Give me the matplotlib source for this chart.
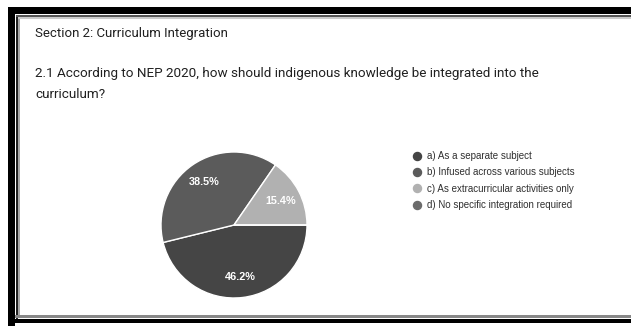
import matplotlib.pyplot as plt
from matplotlib.patches import Rectangle
from matplotlib.lines import Line2D

# survey response shares (percent)
options = ['a) As a separate subject',
           'b) Infused across various subjects',
           'c) As extracurricular activities only',
           'd) No specific integration required']
shares = [46.2, 38.5, 15.4, 0.0]
colors = ['#454545', '#5b5b5b', '#b1b1b1', '#6b6b6b']

title = 'Section 2: Curriculum Integration'
question = '2.1 According to NEP 2020, how should indigenous knowledge be integrated into the\ncurriculum?'

W, H = 631, 326
fig = plt.figure(figsize=(W / 100, H / 100), dpi=100)
fig.patch.set_facecolor('white')


def box(x0, y0, x1, y1, color):
    # rectangle in pixel coords measured from the top-left corner
    fig.patches.append(Rectangle((x0 / W, 1 - y1 / H), (x1 - x0) / W, (y1 - y0) / H,
                                 transform=fig.transFigure, facecolor=color,
                                 edgecolor='none', zorder=0))


# frame around the card
box(8, 7, 15, 326, 'black')
box(8, 7, W, 14, 'black')
box(16, 15, 18, 320, '#222222')
box(16, 15, W, 17, '#555555')
box(18, 17, 20, 318, '#aaaaaa')
box(18, 17, W, 19, '#cccccc')
box(15, 315, W, 318, '#888888')
box(8, 319, W, 323, 'black')

fig.text(35 / W, 1 - 34 / H, title, fontsize=9.5, family='Roboto',
         color='#202020', va='center', ha='left')
fig.text(35 / W, 1 - 67 / H, question, fontsize=9.7, family='Roboto',
         color='#202020', va='top', ha='left', linespacing=1.75)

# pie
cx, cy, r = 234, 225, 73
ax = fig.add_axes([(cx - r) / W, 1 - (cy + r) / H, 2 * r / W, 2 * r / H])
wedges, _, autotexts = ax.pie(
    shares, colors=colors, startangle=0, counterclock=False,
    autopct=lambda p: '' if p < 0.05 else '%.1f%%' % p, pctdistance=0.72,
    wedgeprops=dict(edgecolor='white', linewidth=1.0))
for t in autotexts:
    t.set_color('white')
    t.set_fontsize(7.8)
    t.set_fontweight('bold')
    t.set_family('Liberation Sans')
ax.set_xlim(-1, 1)
ax.set_ylim(-1, 1)
ax.set_aspect('auto')
ax.axis('off')

handles = [Line2D([], [], marker='o', linestyle='none', markersize=5.8,
                  markerfacecolor=c, markeredgecolor=c) for c in colors]
leg = fig.legend(handles, options, loc='upper left',
                 bbox_to_anchor=(414 / W, 1 - 151 / H), frameon=False,
                 prop=dict(family='Liberation Sans', size=7.0),
                 handlelength=0.6, handletextpad=0.75, labelspacing=0.66,
                 borderpad=0, borderaxespad=0)
for t in leg.get_texts():
    t.set_color('#303030')

fig.savefig('out.png', dpi=100)
